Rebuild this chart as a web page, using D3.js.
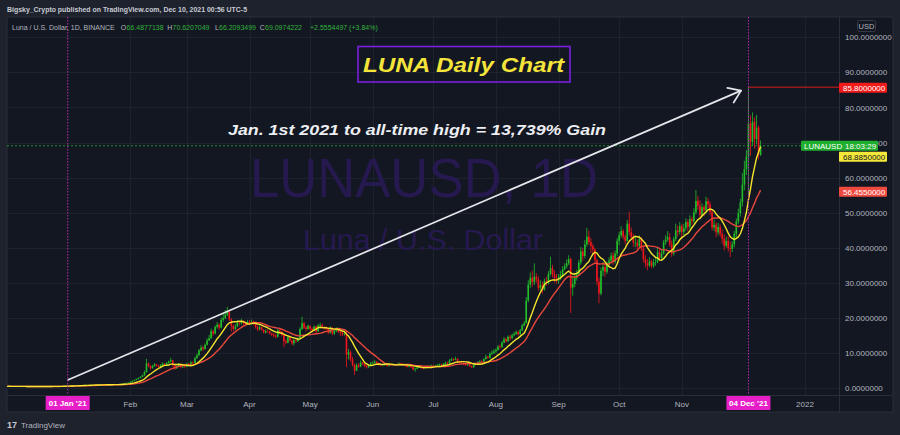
<!DOCTYPE html>
<html><head><meta charset="utf-8">
<script src="https://cdn.jsdelivr.net/npm/d3@7"></script>
<style>
html,body{margin:0;padding:0;background:#1e222d;}
svg{display:block;}
text{font-family:"Liberation Sans",Arial,sans-serif;}
</style></head><body>
<svg id="c" width="900" height="435"></svg>
<script>
// ---------------- DATA (daily LUNA/USD, from 2020-12-02 to 2021-12-10) ----------------
const startDate = "2020-12-02";
const firstOpen = 0.55;
const closes = [
// Dec 2020 (2-31)
0.56,0.58,0.54,0.57,0.56,0.55,0.51,0.52,0.50,0.47,0.49,0.51,0.50,0.49,0.52,0.55,0.54,0.56,0.55,0.52,0.54,0.50,0.53,0.55,0.56,0.60,0.62,0.61,0.63,0.64,
// Jan 2021
0.66,0.70,0.78,0.74,0.80,0.86,0.90,0.87,0.92,0.95,0.88,0.91,0.96,1.00,0.97,1.02,1.05,1.08,1.04,1.00,0.98,1.03,1.06,1.10,1.08,1.15,1.22,1.30,1.45,1.52,1.60,
// Feb
1.85,2.10,2.35,2.60,2.90,3.20,3.70,4.60,7.10,6.40,5.70,6.30,6.80,6.50,6.10,6.60,7.00,6.70,7.20,7.60,8.00,6.50,5.70,6.30,6.70,6.00,6.20,6.10,
// Mar
6.90,6.60,7.40,7.30,8.60,9.40,10.80,11.60,11.20,12.40,13.60,14.30,16.20,15.60,17.50,18.10,17.30,19.50,20.00,21.00,21.80,19.60,17.80,16.90,17.60,18.80,18.50,19.10,18.60,18.20,18.90,
// Apr
18.60,18.90,18.30,17.40,16.80,17.40,16.70,15.90,16.30,16.20,15.60,15.30,15.00,14.70,16.50,16.10,15.20,13.40,13.00,14.60,13.60,12.80,13.70,13.40,14.10,16.90,18.50,17.30,16.90,17.80,
// May
17.00,16.60,17.60,16.20,17.90,18.00,17.50,17.20,17.00,15.80,17.20,15.60,16.30,16.90,16.10,15.80,15.40,15.60,9.60,10.30,8.20,6.70,5.00,6.60,6.20,7.30,7.00,6.30,6.00,6.60,7.10,
// Jun
7.30,7.60,7.20,6.80,6.50,6.70,6.90,6.40,6.80,6.60,6.70,6.50,6.80,7.00,6.90,6.60,6.40,6.10,6.30,6.00,5.40,5.60,5.90,6.20,5.80,5.70,6.00,6.10,6.30,6.40,
// Jul
6.20,6.40,6.60,6.80,6.50,6.90,7.30,7.10,7.90,8.30,8.10,8.40,7.60,7.30,7.10,6.90,6.60,6.80,6.30,6.00,6.80,7.00,7.40,7.70,7.60,8.30,9.00,8.70,9.80,10.10,10.50,
// Aug
10.90,11.90,11.70,13.00,14.00,13.40,14.70,14.30,15.10,15.50,16.00,15.40,16.50,17.90,18.60,25.00,29.50,31.50,30.20,31.80,31.00,28.60,29.40,28.10,30.60,30.10,32.60,34.20,32.50,31.40,30.70,
// Sep
31.80,32.40,33.90,34.70,35.60,36.80,28.70,29.70,31.50,32.50,35.80,39.00,37.70,41.00,43.20,41.70,40.50,39.50,36.50,30.40,27.00,33.50,34.60,33.20,35.20,36.40,37.80,36.00,38.40,42.00,
// Oct
43.60,44.80,43.20,42.00,46.90,44.50,43.10,41.50,41.50,40.50,42.50,39.80,36.80,35.60,35.00,36.20,34.80,35.90,36.00,38.80,37.10,38.40,41.60,42.40,43.10,41.00,38.40,42.50,45.00,44.50,46.20,
// Nov
44.50,45.60,47.40,46.00,48.20,47.60,50.10,53.40,52.00,49.40,51.60,50.70,53.30,52.40,50.20,45.80,46.60,44.40,46.00,44.00,42.60,40.60,42.00,40.00,39.70,41.00,44.00,47.50,49.90,52.95,
// Dec 1-10
58.00,62.50,66.00,75.40,70.20,75.90,71.00,74.26,66.49,69.10
];
const highs = [
0.59,0.60,0.59,0.59,0.58,0.58,0.56,0.54,0.53,0.51,0.51,0.53,0.52,0.52,0.54,0.57,0.57,0.58,0.58,0.56,0.56,0.55,0.55,0.57,0.58,0.62,0.65,0.64,0.65,0.67,
0.68,0.73,0.82,0.80,0.84,0.90,0.95,0.93,0.97,1.00,0.96,0.95,1.00,1.06,1.04,1.07,1.10,1.14,1.10,1.06,1.03,1.07,1.10,1.16,1.14,1.20,1.27,1.36,1.55,1.62,1.70,
1.95,2.25,2.50,2.80,3.10,3.45,3.90,5.00,8.40,7.30,6.60,6.70,7.20,7.00,6.70,6.90,7.40,7.20,7.50,7.90,8.70,8.10,6.90,6.60,7.10,6.80,6.60,6.50,
7.30,7.20,7.80,7.70,9.00,9.90,11.20,12.30,12.10,12.80,14.20,15.20,17.00,16.60,17.90,18.90,18.50,20.20,21.30,22.30,23.20,22.10,20.00,18.20,18.30,19.50,19.30,19.80,19.40,19.00,19.50,
19.40,19.60,19.30,18.50,17.80,17.90,17.60,16.90,16.80,16.90,16.40,15.90,15.70,15.40,16.90,16.90,16.30,15.40,14.00,15.00,15.00,13.90,14.20,14.00,14.50,17.40,20.40,18.90,17.80,18.20,
17.90,17.40,17.90,17.80,18.30,18.70,18.40,17.80,17.60,17.30,17.60,17.50,16.80,17.40,17.20,16.40,16.20,16.30,16.40,11.20,10.80,8.90,7.00,7.10,7.20,7.90,7.60,7.10,6.60,6.90,7.50,
7.70,8.00,7.70,7.40,6.90,7.00,7.20,7.00,7.10,7.00,7.00,6.90,7.10,7.40,7.30,7.00,6.80,6.50,6.60,6.40,6.10,5.90,6.10,6.50,6.30,6.00,6.20,6.40,6.60,6.80,
6.70,6.70,6.90,7.10,7.00,7.20,7.60,7.60,8.30,8.70,8.60,9.00,8.50,7.80,7.60,7.40,7.00,7.10,6.90,6.50,7.00,7.30,7.70,8.00,8.10,8.60,9.60,9.20,10.30,10.80,11.20,
11.40,12.30,12.50,13.50,14.60,14.40,15.10,15.20,15.60,16.10,16.50,16.40,16.90,18.30,19.20,26.00,30.80,33.00,33.50,35.60,32.80,31.90,30.80,30.40,31.30,31.80,33.40,37.50,35.20,33.60,32.60,
32.60,33.50,34.80,35.60,36.70,37.90,37.20,31.80,32.90,33.80,36.60,40.30,40.00,42.20,45.70,44.90,42.80,41.20,40.00,36.90,31.50,34.40,36.00,35.60,36.10,37.30,38.70,38.80,39.30,42.80,
44.50,46.20,45.30,43.80,48.00,50.30,45.80,44.00,43.30,42.40,43.60,43.10,40.20,37.90,36.80,37.40,36.70,36.80,37.20,40.20,40.10,39.60,42.30,43.60,44.80,44.20,42.10,43.20,46.90,46.30,47.40,
46.80,46.90,48.40,48.10,49.30,49.00,51.30,56.50,54.80,53.60,52.70,52.20,54.60,54.20,53.20,51.00,48.10,47.30,47.20,46.70,45.30,43.80,43.20,43.30,41.80,41.90,44.80,48.40,51.20,54.00,
61.30,64.80,67.90,85.80,77.80,78.60,77.20,77.90,74.80,70.62
];
const lows = [
0.53,0.55,0.53,0.53,0.54,0.53,0.50,0.50,0.48,0.46,0.46,0.48,0.48,0.47,0.48,0.51,0.52,0.53,0.53,0.51,0.51,0.49,0.49,0.52,0.54,0.55,0.59,0.59,0.60,0.61,
0.62,0.64,0.69,0.70,0.73,0.78,0.84,0.82,0.86,0.89,0.85,0.86,0.89,0.94,0.93,0.95,1.00,1.02,1.00,0.95,0.92,0.96,1.01,1.04,1.03,1.06,1.12,1.19,1.28,1.40,1.46,
1.55,1.80,2.05,2.30,2.55,2.85,3.15,3.60,4.50,6.00,5.30,5.60,6.10,6.20,5.80,6.00,6.40,6.40,6.60,7.00,7.40,6.20,5.20,5.50,6.10,5.70,5.80,5.70,
6.30,6.40,6.50,6.90,7.20,8.40,9.30,10.50,10.60,11.00,12.20,13.50,14.00,15.00,15.40,17.00,16.60,17.10,18.90,19.70,20.50,19.20,16.10,16.20,16.60,17.40,17.90,18.20,18.10,17.60,18.00,
18.00,18.20,18.00,17.00,16.30,16.50,16.40,15.60,15.60,15.80,15.30,14.90,14.50,14.30,14.50,15.60,14.80,11.70,12.50,12.80,13.30,12.30,12.20,13.00,13.20,13.90,16.60,16.90,16.20,16.70,
16.40,16.00,16.30,15.80,16.10,17.50,17.00,16.70,16.50,15.40,15.60,15.10,15.20,16.00,15.70,14.90,14.80,15.00,6.00,8.20,7.60,6.20,3.80,4.90,5.80,6.00,6.60,6.00,5.60,5.80,6.40,
6.90,7.10,6.90,6.50,6.20,6.30,6.40,6.20,6.20,6.40,6.40,6.30,6.40,6.80,6.70,6.40,6.20,5.90,6.00,5.80,5.20,4.70,5.40,5.80,5.60,5.40,5.60,5.90,6.00,6.10,
5.90,6.00,6.30,6.40,6.30,6.40,6.80,6.80,7.00,7.80,7.70,8.00,7.40,7.00,6.80,6.60,6.40,6.40,6.10,5.70,5.80,6.70,6.90,7.30,7.30,7.50,8.20,8.40,8.50,9.50,9.80,
10.10,10.70,11.20,11.60,12.80,13.00,13.20,13.60,14.00,14.80,15.20,15.00,15.20,16.30,17.60,18.40,24.50,28.50,28.90,29.40,30.10,27.80,27.90,27.00,27.80,29.20,29.60,32.10,31.60,30.20,29.80,
29.80,30.80,31.90,33.60,34.20,35.10,21.40,26.40,28.80,30.70,32.00,35.20,36.30,37.00,40.30,40.80,38.60,37.90,35.80,29.30,24.20,26.50,32.00,31.80,32.60,34.50,35.60,35.20,35.50,37.60,
40.80,42.80,42.40,41.00,41.80,43.60,42.60,40.30,40.20,39.60,40.00,39.20,35.90,34.40,33.70,34.60,34.20,34.30,34.90,35.60,36.20,36.50,38.10,40.90,41.80,40.30,37.40,37.80,41.90,43.20,43.80,
42.90,43.60,44.80,44.70,45.40,46.50,47.00,49.60,50.80,48.20,48.60,49.00,49.90,51.30,49.40,45.00,44.80,43.00,43.60,43.20,41.20,39.30,40.00,38.90,37.40,38.80,40.20,43.00,46.80,48.90,
51.80,56.40,60.80,55.20,66.20,69.10,68.30,69.50,65.20,66.21
];
const fastLen = 10, slowLen = 20;
const priceTicks = [0,10,20,30,40,50,60,70,80,90,100];
const monthTicks = ["2021-02-01","2021-03-01","2021-04-01","2021-05-01","2021-06-01","2021-07-01","2021-08-01","2021-09-01","2021-10-01","2021-11-01","2022-01-01"];
const monthLabels = ["Feb","Mar","Apr","May","Jun","Jul","Aug","Sep","Oct","Nov","2022"];
const markerDates = ["2021-01-01","2021-12-04"];
const markerLabels = ["01 Jan '21","04 Dec '21"];
const athValue = 85.8, athDate = "2021-12-04";
const lastClose = 69.0974222;
const arrowStart = ["2021-01-01", 2.36];
const arrowEnd = ["2021-11-30T08:00:00", 84.8];
const headerText = "Bigsky_Crypto published on TradingView.com, Dec 10, 2021 00:56 UTC-5";
const legendTexts = ["Luna / U.S. Dollar, 1D, BINANCE","O","66.4877138","H","70.6207049","L","66.2093499","C","69.0974222","+2.5554497 (+3.84%)"];

// ---------------- DRAW ----------------
const svg = d3.select("#c");
const P = {l:7, r:839, t:17, b:395, axR:893, xb:412};
const D = s => new Date(s.length>10 ? s+"Z" : s+"T00:00:00Z");
const x = d3.scaleUtc().domain([D("2021-01-01"), D("2022-01-01")]).range([67.7, 805]);
const y = d3.scaleLinear().domain([0,100]).range([388.3, 37.3]);

const t0 = D(startDate);
const candles = closes.map((c,i)=>{
  const o = i ? closes[i-1] : firstOpen;
  return {d:new Date(t0.getTime()+i*864e5), o, c, h:Math.max(highs[i],o,c), l:Math.min(lows[i],o,c)};
});
function sma(arr,n){return arr.map((v,i)=>{const s=arr.slice(Math.max(0,i-n+1),i+1);return d3.mean(s);});}
const fast = sma(closes,fastLen), slow = sma(closes,slowLen);

svg.append("rect").attr("width",900).attr("height",435).attr("fill","#1e222d");
svg.append("rect").attr("x",P.l).attr("y",P.t).attr("width",P.axR-P.l).attr("height",P.xb-P.t).attr("fill","#131722").attr("stroke","#2a2e39");

// grid
const grid = svg.append("g").attr("stroke","#1e222d").attr("stroke-width",1);
priceTicks.forEach(v=>grid.append("line").attr("x1",P.l).attr("x2",P.r).attr("y1",Math.round(y(v))+0.5).attr("y2",Math.round(y(v))+0.5));
monthTicks.forEach(m=>grid.append("line").attr("x1",Math.round(x(D(m)))+0.5).attr("x2",Math.round(x(D(m)))+0.5).attr("y1",P.t).attr("y2",P.b));
svg.append("line").attr("x1",P.r+0.5).attr("x2",P.r+0.5).attr("y1",P.t).attr("y2",P.xb).attr("stroke","#2a2e39");
svg.append("line").attr("x1",P.l).attr("x2",P.axR).attr("y1",P.b+0.5).attr("y2",P.b+0.5).attr("stroke","#2a2e39");

// watermark
svg.append("text").attr("x",424).attr("y",197).attr("text-anchor","middle")
  .attr("font-family","DejaVu Sans").attr("font-size",56).attr("fill","#26194f")
  .attr("textLength",348).attr("lengthAdjust","spacingAndGlyphs").text("LUNAUSD, 1D");
svg.append("text").attr("x",423).attr("y",250).attr("text-anchor","middle")
  .attr("font-family","DejaVu Sans").attr("font-size",29).attr("fill","#26194f")
  .attr("textLength",240).attr("lengthAdjust","spacingAndGlyphs").text("Luna / U.S. Dollar");

svg.append("defs").append("clipPath").attr("id","pc").append("rect")
  .attr("x",P.l).attr("y",P.t).attr("width",P.r-P.l).attr("height",P.b-P.t);
const plot = svg.append("g").attr("clip-path","url(#pc)");

// last price dashed line
plot.append("line").attr("x1",P.l).attr("x2",P.r).attr("y1",y(lastClose)).attr("y2",y(lastClose))
  .attr("stroke","#1f8f2c").attr("stroke-dasharray","2,2");

// vertical marker lines
markerDates.forEach(m=>svg.append("line").attr("x1",x(D(m))).attr("x2",x(D(m))).attr("y1",P.t).attr("y2",P.b)
  .attr("stroke","#b02ab0").attr("stroke-dasharray","1.5,1.5").attr("stroke-width",1));

// candles
const up="#22bd2a", dn="#f0161b";
const cg = plot.append("g");
cg.selectAll("line").data(candles).join("line")
  .attr("x1",d=>x(d.d)).attr("x2",d=>x(d.d)).attr("y1",d=>y(d.h)).attr("y2",d=>y(d.l))
  .attr("stroke",d=>d.c>=d.o?up:dn).attr("stroke-width",0.8);
cg.selectAll("rect").data(candles).join("rect")
  .attr("x",d=>x(d.d)-0.8).attr("width",1.6)
  .attr("y",d=>y(Math.max(d.o,d.c))).attr("height",d=>Math.max(0.6,Math.abs(y(d.o)-y(d.c))))
  .attr("fill",d=>d.c>=d.o?up:dn);

// moving averages
const lineGen = arr => d3.line().x((d,i)=>x(candles[i].d)).y(d=>y(d))(arr);
plot.append("path").attr("d",lineGen(slow)).attr("fill","none").attr("stroke","#e8473c").attr("stroke-width",1.4);
plot.append("path").attr("d",lineGen(fast)).attr("fill","none").attr("stroke","#f5e52c").attr("stroke-width",1.4);

// ATH line
plot.append("line").attr("x1",x(D(athDate))).attr("x2",P.r).attr("y1",y(athValue)).attr("y2",y(athValue))
  .attr("stroke","#d81b1b").attr("stroke-width",1);

// arrow
const ax1=x(D(arrowStart[0])), ay1=y(arrowStart[1]), ax2=x(D(arrowEnd[0])), ay2=y(arrowEnd[1]);
svg.append("line").attr("x1",ax1).attr("y1",ay1).attr("x2",ax2).attr("y2",ay2).attr("stroke","#e6e7eb").attr("stroke-width",1.7);
(function(){
  const len=Math.hypot(ax2-ax1,ay2-ay1), bx=-(ax2-ax1)/len, by=-(ay2-ay1)/len;
  [35,-35].forEach(a=>{const r=a*Math.PI/180, vx=bx*Math.cos(r)-by*Math.sin(r), vy=bx*Math.sin(r)+by*Math.cos(r);
    svg.append("line").attr("x1",ax2).attr("y1",ay2).attr("x2",ax2+vx*14).attr("y2",ay2+vy*14)
      .attr("stroke","#e6e7eb").attr("stroke-width",1.7).attr("stroke-linecap","round");});
})();

// title box
svg.append("rect").attr("x",358).attr("y",46.5).attr("width",212).attr("height",35.5)
  .attr("fill","none").attr("stroke","#7b1fe0").attr("stroke-width",1.6);
svg.append("text").attr("x",363).attr("y",72).attr("font-family","DejaVu Sans").attr("font-weight","bold")
  .attr("font-style","italic").attr("font-size",21).attr("fill","#f5e43a")
  .attr("textLength",201).attr("lengthAdjust","spacingAndGlyphs").text("LUNA Daily Chart");
svg.append("text").attr("x",228).attr("y",134.5).attr("font-family","DejaVu Sans").attr("font-weight","bold")
  .attr("font-style","italic").attr("font-size",14.5).attr("fill","#eceef2")
  .attr("textLength",378).attr("lengthAdjust","spacingAndGlyphs").text("Jan. 1st 2021 to all-time high = 13,739% Gain");

// price axis labels
const ay = svg.append("g").attr("font-size",8).attr("fill","#b2b5be");
priceTicks.forEach(v=>ay.append("text").attr("x",845).attr("y",y(v)+3).text(v.toFixed(7)));
svg.append("rect").attr("x",857.5).attr("y",20.5).attr("width",18).attr("height",11).attr("rx",2)
  .attr("fill","#131722").attr("stroke","#363a45");
svg.append("text").attr("x",866.5).attr("y",29).attr("text-anchor","middle").attr("font-size",7.5).attr("fill","#b2b5be").text("USD");

function tag(yc,fill,txt,tcol){
  svg.append("rect").attr("x",839).attr("y",yc-5).attr("width",48).attr("height",10).attr("rx",1).attr("fill",fill);
  svg.append("text").attr("x",843).attr("y",yc+3).attr("font-size",8).attr("fill",tcol).text(txt);
}
tag(y(athValue)+0.6,"#f21b1b",athValue.toFixed(7),"#ffffff");
// last price / symbol tag
svg.append("rect").attr("x",801).attr("y",y(lastClose)-5).attr("width",77).attr("height",10).attr("rx",1).attr("fill","#1fae2e");
svg.append("text").attr("x",804).attr("y",y(lastClose)+3).attr("font-size",8).attr("fill","#ffffff").text("LUNAUSD");
svg.append("text").attr("x",845).attr("y",y(lastClose)+3).attr("font-size",8).attr("fill","#ffffff").text("18:03:29");
tag(y(lastClose)+11,"#f5e83a",fast[fast.length-1].toFixed(7),"#131722");
tag(y(slow[slow.length-1])+1.5,"#ef4a3f",slow[slow.length-1].toFixed(7),"#ffffff");

// time axis labels
const tx = svg.append("g").attr("font-size",8).attr("fill","#b2b5be").attr("text-anchor","middle");
monthTicks.forEach((m,i)=>tx.append("text").attr("x",x(D(m))).attr("y",407).text(monthLabels[i]));
markerDates.forEach((m,i)=>{
  const cx=x(D(m));
  svg.append("rect").attr("x",cx-22).attr("y",396).attr("width",44).attr("height",14).attr("fill","#e61fc6");
  svg.append("text").attr("x",cx).attr("y",406).attr("text-anchor","middle").attr("font-size",8).attr("font-weight","bold").attr("fill","#ffffff").text(markerLabels[i]);
});

// header
svg.append("text").attr("x",7).attr("y",11.5).attr("font-size",8).attr("font-weight","bold").attr("fill","#c8cbd3")
  .attr("textLength",240).attr("lengthAdjust","spacingAndGlyphs").text(headerText);
// legend line: each part placed at its own x (layout), text from legendTexts
const legendX = [12,120.8,126.6,167.2,172.5,215,219,259.8,265,310];
const legendC = ["#b2b5be","#b2b5be","#2fb33a","#b2b5be","#2fb33a","#b2b5be","#2fb33a","#b2b5be","#2fb33a","#2fb33a"];
legendTexts.forEach((t,i)=>{
  svg.append("text").attr("x",legendX[i]).attr("y",29.5).attr("font-size",7).attr("fill",legendC[i]).text(t);
});

// footer logo
svg.append("text").attr("x",7).attr("y",428).attr("font-size",9).attr("font-weight","900").attr("fill","#c8cbd3").attr("font-family","DejaVu Sans").text("17");
svg.append("text").attr("x",21).attr("y",428).attr("font-size",8).attr("fill","#b2b5be").text("TradingView");
</script>
</body></html>
